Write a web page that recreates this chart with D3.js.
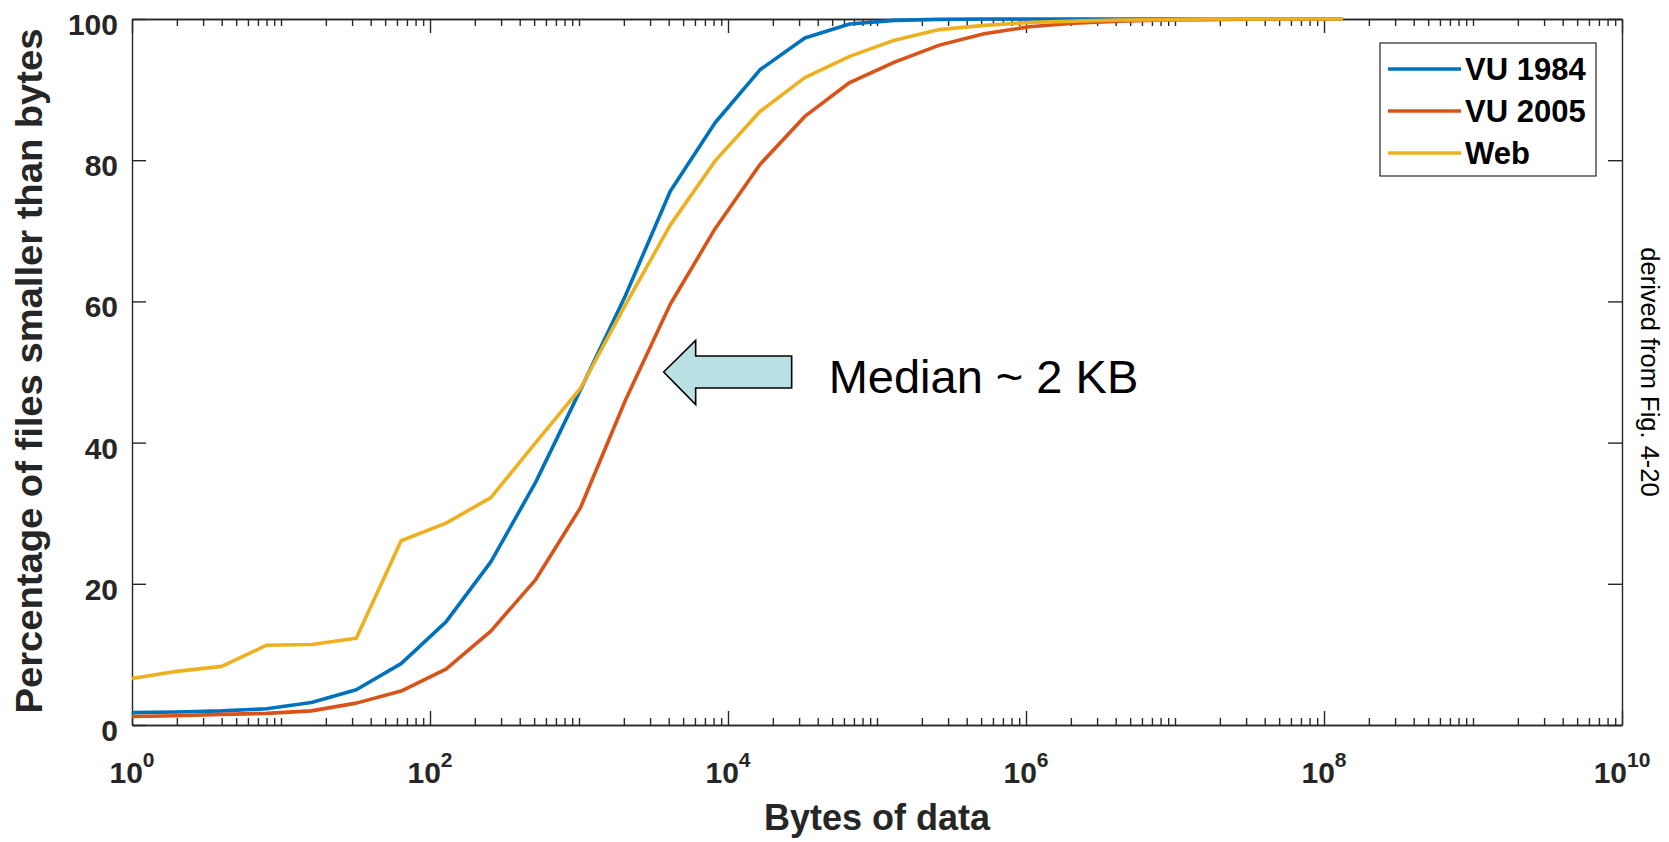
<!DOCTYPE html>
<head>
  <meta charset="utf-8">
  <style>
    body { margin:0; background:#fff; }
    text { font-family: "Liberation Sans", Arial, Helvetica, sans-serif; fill:#262626; }
    .tick line, .domain { stroke:#262626; stroke-width:1.4px; }
    .lbl { font-weight:bold; }
  </style>
</head>
<body>
<script src="https://d3js.org/d3.v7.min.js"></script>
<script>

// DATA (file sizes are powers of two, 2^0 .. 2^27)
var exponents = d3.range(0, 28);
var seriesNames = ["VU 1984", "VU 2005", "Web"];
var vu1984 = [1.75, 1.85, 2.0, 2.3, 3.2, 5.0, 8.7, 14.6, 23.1, 34.4, 47.5, 60.8, 75.6, 85.3,
              92.8, 97.3, 99.3, 99.8, 99.95, 100, 100, 100, 100, 100, 100, 100, 100, 100];
var vu2005 = [1.2, 1.3, 1.5, 1.65, 2.0, 3.1, 4.8, 7.9, 13.3, 20.6, 30.8, 46.0, 59.6, 70.3,
              79.4, 86.2, 91.0, 93.9, 96.3, 97.9, 98.9, 99.4, 99.7, 99.85, 99.9, 100, 100, 100];
var web    = [6.6, 7.6, 8.3, 11.3, 11.4, 12.3, 26.1, 28.6, 32.2, 40.0, 47.7, 59.5, 70.8, 79.9,
              86.9, 91.7, 94.7, 97.0, 98.5, 99.1, 99.5, 99.7, 99.85, 99.9, 100, 100, 100, 100];
var yTicks = [0, 20, 40, 60, 80, 100];
var xLabelExps = [0, 2, 4, 6, 8, 10];
var medianNote = "Median ~ 2 KB";
var sourceNote = "derived from Fig. 4-20";

var width = 1669, height = 842;
var colors = ["#0072BD", "#D95319", "#EDB120"];

var svg = d3.select("body").append("svg")
    .attr("width", width)
    .attr("height", height);

// SCALES
var x = d3.scaleLog().domain([1, 1e10]).range([132, 1622]);
var y = d3.scaleLinear().domain([0, 100]).range([725, 19]);

var minorTicks = [];
d3.range(0, 10).forEach(function(k) {
  d3.range(1, 10).forEach(function(m) {
    if (!(m == 1 && k % 2 == 0)) minorTicks.push(m * Math.pow(10, k));
  });
});
var majorTicks = xLabelExps.map(function(e) { return Math.pow(10, e); });

// AXES (ticks pointing inwards, box on)
function addAxis(axis, tx, ty) {
  return svg.append("g").attr("transform", "translate(" + tx + "," + ty + ")").call(axis);
}
addAxis(d3.axisBottom(x).tickValues(minorTicks).tickSize(-7).tickSizeOuter(0).tickFormat(""), 0, y(0));
addAxis(d3.axisBottom(x).tickValues(majorTicks).tickSize(-14).tickSizeOuter(0).tickFormat(""), 0, y(0));
addAxis(d3.axisTop(x).tickValues(minorTicks).tickSize(-7).tickSizeOuter(0).tickFormat(""), 0, y(100));
addAxis(d3.axisTop(x).tickValues(majorTicks).tickSize(-14).tickSizeOuter(0).tickFormat(""), 0, y(100));
addAxis(d3.axisRight(y).tickValues(yTicks).tickSize(-14).tickSizeOuter(0).tickFormat(""), x(1e10), 0);

var yAxis = addAxis(d3.axisLeft(y).tickValues(yTicks).tickSize(-14).tickSizeOuter(0).tickPadding(14), x(1), 0);
yAxis.selectAll("text")
    .attr("dy", null).attr("dy", "15.5px")
    .style("font-size", "30px").style("font-weight", "bold")
    .style("font-family", "'Liberation Sans', Arial, sans-serif")
    .attr("fill", "#262626");

// x tick labels with superscript exponents
var xl = svg.append("g").selectAll("text")
    .data(xLabelExps)
  .enter().append("text")
    .attr("class", "lbl")
    .attr("x", function(e) { return x(Math.pow(10, e)); })
    .attr("y", 783)
    .attr("text-anchor", "middle")
    .style("font-size", "30px");
xl.append("tspan").text("10");
xl.append("tspan").attr("dy", -16).style("font-size", "21px").text(function(e) { return e; });

// AXIS TITLES
svg.append("text")
    .attr("class", "lbl")
    .attr("x", (x.range()[0] + x.range()[1]) / 2)
    .attr("y", 830)
    .attr("text-anchor", "middle")
    .style("font-size", "36px")
    .text("Bytes of data");

svg.append("text")
    .attr("class", "lbl")
    .attr("transform", "translate(42," + (y(50) - 1) + ") rotate(-90)")
    .attr("text-anchor", "middle")
    .style("font-size", "36px")
    .attr("textLength", 685)
    .attr("lengthAdjust", "spacingAndGlyphs")
    .text("Percentage of files smaller than bytes");

// LINES
var line = d3.line()
    .x(function(d) { return x(Math.pow(2, d.e)); })
    .y(function(d) { return y(d.v); });

[vu1984, vu2005, web].forEach(function(vals, i) {
  var pts = exponents.map(function(e, j) { return { e: e, v: vals[j] }; });
  svg.append("path")
      .datum(pts)
      .attr("fill", "none")
      .attr("stroke", colors[i])
      .attr("stroke-width", 3.6)
      .attr("stroke-linejoin", "round")
      .attr("d", line);
});

// LEGEND
var legend = svg.append("g");
legend.append("rect")
    .attr("x", 1380).attr("y", 43)
    .attr("width", 216).attr("height", 133)
    .attr("fill", "#fff").attr("stroke", "#262626").attr("stroke-width", 1.2);
seriesNames.forEach(function(name, i) {
  var ry = 69 + i * 42;
  legend.append("line")
      .attr("x1", 1388).attr("x2", 1461)
      .attr("y1", ry).attr("y2", ry)
      .attr("stroke", colors[i]).attr("stroke-width", 3.6);
  legend.append("text")
      .attr("class", "lbl")
      .attr("x", 1465).attr("y", ry + 11)
      .style("font-size", "31px")
      .style("fill", "#000")
      .text(name);
});

// MEDIAN ANNOTATION (arrow tip sits on the 50% level)
var tipX = x(3700), tipY = y(50);
var arrow = [[0, 0], [32, -31.5], [32, -16], [128, -16], [128, 16], [32, 16], [32, 32.5]];
svg.append("path")
    .attr("d", d3.line()(arrow.map(function(p) { return [tipX + p[0], tipY + p[1]]; })) + "Z")
    .attr("fill", "#B9E0E3")
    .attr("stroke", "#000")
    .attr("stroke-width", 1.6);

svg.append("text")
    .attr("x", tipX + 165)
    .attr("y", tipY + 21)
    .style("font-size", "47px")
    .style("fill", "#000")
    .text(medianNote);

svg.append("text")
    .attr("transform", "translate(1641," + y(50) + ") rotate(90)")
    .attr("text-anchor", "middle")
    .style("font-size", "25.5px")
    .style("fill", "#000")
    .text(sourceNote);

</script>
</body>
